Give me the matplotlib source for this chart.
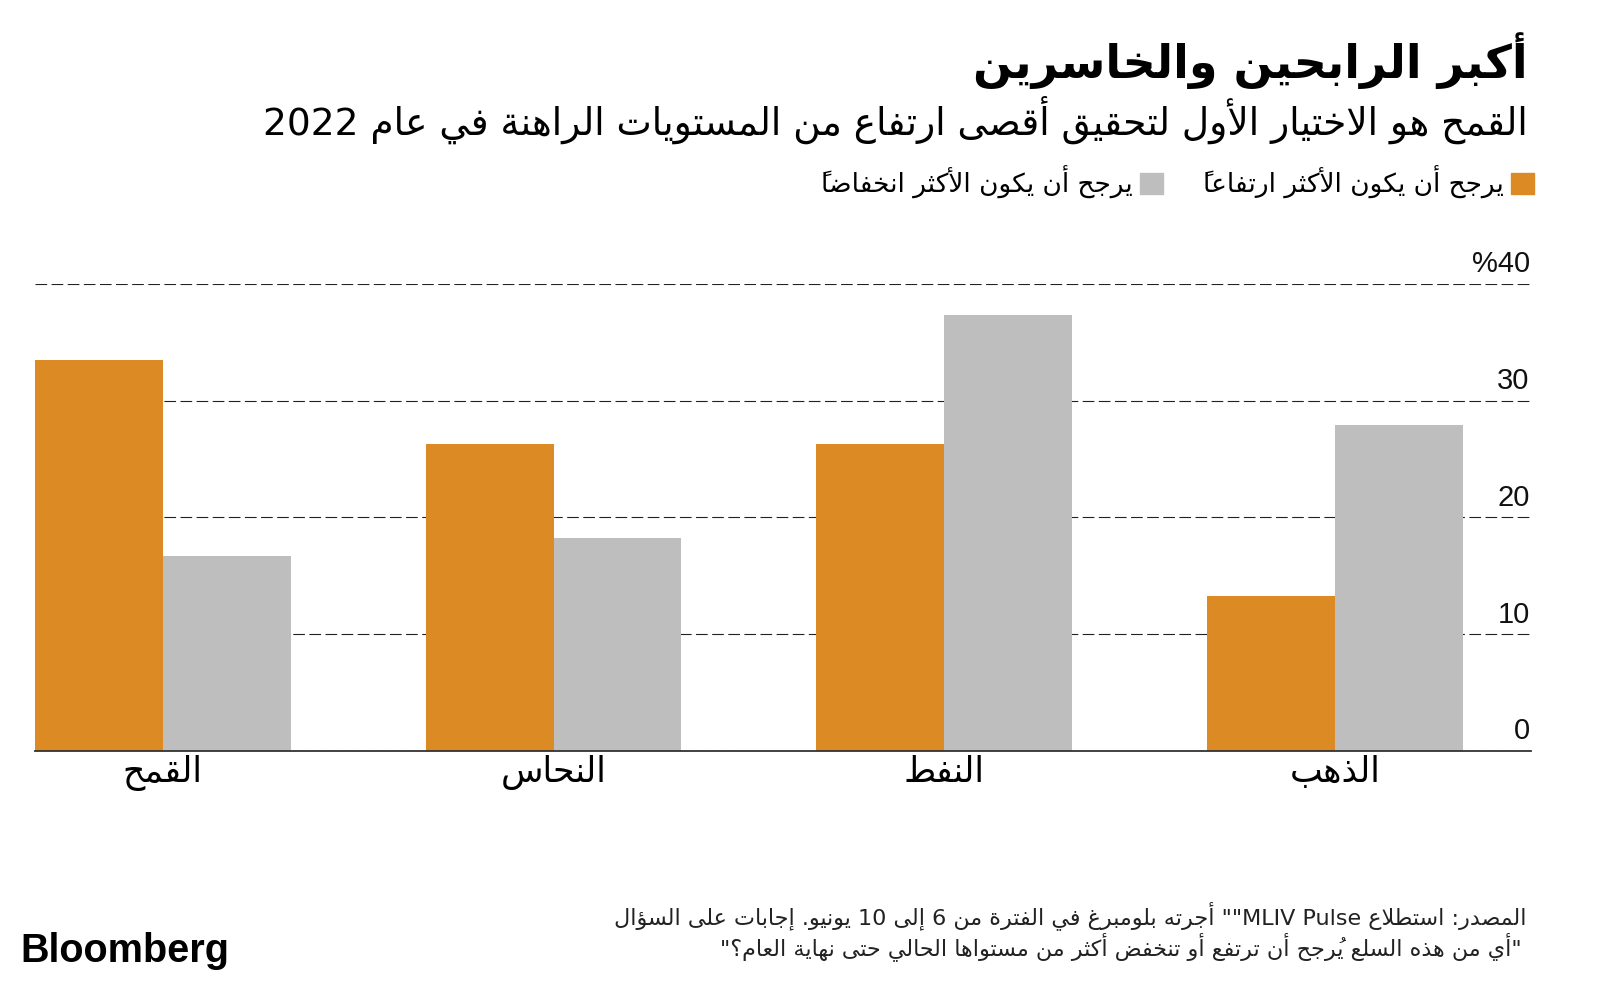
import re

import numpy as np
import matplotlib
matplotlib.use('Agg')
import matplotlib.pyplot as plt
from matplotlib.patches import Patch

### Data (categories listed left to right as drawn)
categories = ['القمح', 'النحاس', 'النفط', 'الذهب']
likely_rise = [33.5, 26.3, 26.3, 13.3]
likely_fall = [16.7, 18.2, 37.3, 27.9]
ytick_values = [0, 10, 20, 30, 40]
ytick_labels = ['0', '10', '20', '30', '%40']
series_labels = ['يرجح أن يكون الأكثر ارتفاعاً', 'يرجح أن يكون الأكثر انخفاضاً']
title = 'أكبر الرابحين والخاسرين'
subtitle = 'القمح هو الاختيار الأول لتحقيق أقصى ارتفاع من المستويات الراهنة في عام 2022'
source_lines = [
    'المصدر: استطلاع MLIV Pulse"" أجرته بلومبرغ في الفترة من 6 إلى 10 يونيو. إجابات على السؤال',
    '"أي من هذه السلع يُرجح أن ترتفع أو تنخفض أكثر من مستواها الحالي حتى نهاية العام؟"',
]

colors = {'rise': '#DB8A24', 'fall': '#BEBEBE'}
AR = ['DejaVu Sans']
NUM = ['Liberation Sans', 'DejaVu Sans']


### Minimal Arabic shaping (matplotlib draws glyphs left to right, unjoined)
_letters = [('ء', 1), ('آ', 2), ('أ', 2), ('ؤ', 2), ('إ', 2), ('ئ', 4), ('ا', 2),
            ('ب', 4), ('ة', 2), ('ت', 4), ('ث', 4), ('ج', 4), ('ح', 4), ('خ', 4),
            ('د', 2), ('ذ', 2), ('ر', 2), ('ز', 2), ('س', 4), ('ش', 4), ('ص', 4),
            ('ض', 4), ('ط', 4), ('ظ', 4), ('ع', 4), ('غ', 4), ('ف', 4), ('ق', 4),
            ('ك', 4), ('ل', 4), ('م', 4), ('ن', 4), ('ه', 4), ('و', 2), ('ى', 2),
            ('ي', 4)]
FORMS = {}
_code = 0xFE80
for _ch, _n in _letters:
    FORMS[_ch] = [chr(_code + i) for i in range(_n)]
    _code += _n
for _alef, _c in {'آ': 0xFEF5, 'أ': 0xFEF7, 'إ': 0xFEF9, 'ا': 0xFEFB}.items():
    FORMS['ل' + _alef] = [chr(_c), chr(_c + 1)]
MARK = '\u064B-\u065F\u0670'


def shape(text):
    items = []
    for ch in text:
        if re.match('[' + MARK + ']', ch) and items:
            items[-1][1] += ch
        else:
            items.append([ch, ''])
    merged, i = [], 0
    while i < len(items):
        ch, mk = items[i]
        if ch == 'ل' and i + 1 < len(items) and ('ل' + items[i + 1][0]) in FORMS:
            merged.append(['ل' + items[i + 1][0], mk + items[i + 1][1]])
            i += 2
        else:
            merged.append([ch, mk])
            i += 1

    def dual(c):
        return c in FORMS and len(FORMS[c]) == 4

    def joinable(c):
        return c in FORMS and c != 'ء'

    out = []
    for i, (ch, mk) in enumerate(merged):
        if ch not in FORMS:
            out.append(ch + mk)
            continue
        prev = merged[i - 1][0] if i > 0 else ''
        nxt = merged[i + 1][0] if i + 1 < len(merged) else ''
        jp = joinable(ch) and dual(prev)
        jn = dual(ch) and joinable(nxt)
        f = FORMS[ch]
        if len(f) == 4:
            g = f[3] if jp and jn else f[1] if jp else f[2] if jn else f[0]
        elif len(f) == 2:
            g = f[1] if jp else f[0]
        else:
            g = f[0]
        out.append(g + mk)
    return ''.join(out)


LTR = re.compile(r'[A-Za-z0-9](?:[A-Za-z0-9 .,:]*[A-Za-z0-9])?')


def ar(text):
    s = shape(text)
    parts, pos = [], 0
    for m in LTR.finditer(s):
        if m.start() > pos:
            parts.append(('r', s[pos:m.start()]))
        parts.append(('l', m.group()))
        pos = m.end()
    if pos < len(s):
        parts.append(('r', s[pos:]))
    res = []
    for kind, seg in reversed(parts):
        if kind == 'r':
            # marks have no advance and draw to the right of the pen,
            # so put them just before their base letter
            clusters = re.findall('(.)([' + MARK + ']*)', seg)
            seg = ''.join(mk + base for base, mk in reversed(clusters))
        res.append(seg)
    return ''.join(res)


### Figure
fig = plt.figure(figsize=(16, 9.86), dpi=100)
ax = fig.add_axes([0.0217, 0.2383, 0.9352, 0.474])

pos = np.arange(len(categories)) * 3.055
ax.bar(pos - 0.5, likely_rise, width=1.0, color=colors['rise'], zorder=3)
ax.bar(pos + 0.5, likely_fall, width=1.0, color=colors['fall'], zorder=3)

ax.set_xlim(pos[0] - 1, pos[-1] + 1.53)
ax.set_ylim(0, 40)
ax.set_axisbelow(True)
ax.set_yticks(ytick_values)
ax.yaxis.grid(True, color='#222222', linestyle=(0, (10.5, 4)), linewidth=0.8)
ax.yaxis.set_tick_params(left=False, labelleft=False)
for sp in ['top', 'right', 'left']:
    ax.spines[sp].set_visible(False)
ax.spines['bottom'].set_color('#333333')
ax.spines['bottom'].set_linewidth(1.3)
ax.spines['bottom'].set_zorder(4)

ax.set_xticks(pos)
ax.set_xticklabels([ar(c) for c in categories], family=AR, fontsize=25)
ax.xaxis.set_tick_params(length=0, pad=3)

for v, lab in zip(ytick_values, ytick_labels):
    ax.annotate(lab, (1.0, v), xycoords=ax.get_yaxis_transform(),
                xytext=(-1, 4), textcoords='offset points',
                ha='right', va='bottom', fontsize=21, family=NUM, color='#111111')

# Titles
fig.text(0.955, 0.939, ar(title), ha='right', va='center', fontsize=33,
         weight='bold', family=AR)
fig.text(0.955, 0.878, ar(subtitle), ha='right', va='center', fontsize=27,
         family=AR)

# Legend: squares to the right of the labels, first series rightmost
handles = [Patch(color=colors['fall']), Patch(color=colors['rise'])]
fig.legend(handles, [ar(series_labels[1]), ar(series_labels[0])],
           loc='center right', bbox_to_anchor=(0.9585, 0.815), ncol=2,
           markerfirst=False, frameon=False, prop={'family': AR, 'size': 19},
           handlelength=0.85, handleheight=0.85, handletextpad=0.3,
           columnspacing=1.5, borderaxespad=0, borderpad=0)

# Source
fig.text(0.954, 0.071, ar(source_lines[0]), ha='right', va='center',
         fontsize=16, family=AR, color='#222222')
fig.text(0.951, 0.040, ar(source_lines[1]), ha='right', va='center',
         fontsize=16, family=AR, color='#222222')

fig.text(0.0125, 0.036, 'Bloomberg', ha='left', va='center', fontsize=28.5,
         weight='bold', family=NUM)

fig.savefig('out.png', dpi=100)
